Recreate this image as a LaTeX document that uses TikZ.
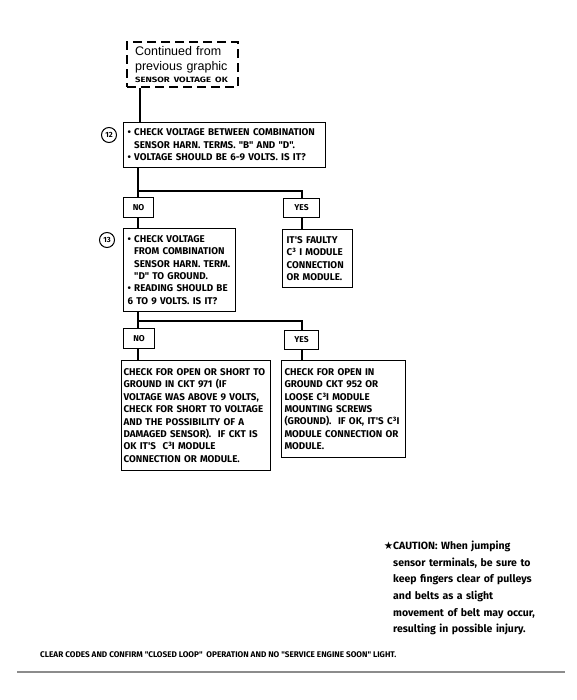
\documentclass[tikz,border=0pt]{standalone}
\usepackage{fontspec}
\setmainfont{Liberation Sans}
\newfontfamily\boxfnt{Fira Sans}
\newfontfamily\wideboxfnt{Fira Sans}[FakeStretch=1.25]
\newfontfamily\symfnt{DejaVu Sans}
\begin{document}
\begin{tikzpicture}[x=1pt,y=-1pt]
\useasboundingbox[fill=white] (0,0) rectangle (577,700);
\tikzset{
  box/.style={draw, line width=1.1pt, inner xsep=4pt, inner ysep=0pt, align=left,
    anchor=north west, font=\boxfnt\bfseries\fontsize{9.8}{12.4}\selectfont},
  conn/.style={line width=2.6pt},
  numc/.style={circle, draw, line width=1pt, minimum size=15pt, inner sep=0pt,
    font=\boxfnt\bfseries\fontsize{7.5}{8}\selectfont},
  yn/.style={draw, line width=1.1pt, inner sep=0pt, anchor=north west,
    font=\boxfnt\bfseries\fontsize{8.5}{10}\selectfont},
  dashbox/.style={draw, line width=2.2pt, dash pattern=on 9pt off 5pt, anchor=north west,
    inner xsep=8pt, inner ysep=0pt, align=left, font=\fontsize{12.5}{14.5}\selectfont},
  caut/.style={anchor=north west, inner sep=0pt, align=left, text width=185pt,
    font=\boxfnt\bfseries\fontsize{10.5}{16.6}\selectfont},
  foot/.style={anchor=west, inner sep=0pt, font=\boxfnt\bfseries\fontsize{8.2}{9}\selectfont}
}
% trunk coordinates
\coordinate (tD) at (140,0);
\coordinate (tL) at (138,0);
\coordinate (tR) at (302,0);
\coordinate (br1) at (138,191);
\coordinate (br2) at (138,321);

% dashed start box
\node[dashbox, minimum width=111pt, minimum height=45pt, text width=95pt] (start) at (126,41)
  {Continued from\\previous graphic\\[-2pt]\mbox{\wideboxfnt\bfseries\fontsize{7.6}{9}\selectfont SENSOR VOLTAGE OK}};

% step 12
\node[box, minimum height=45pt, text width=194pt] (b12) at (123,122)
  {\textbullet\ CHECK VOLTAGE BETWEEN COMBINATION\\
   \hphantom{\textbullet\ }SENSOR HARN. TERMS. "B" AND "D".\\
   \textbullet\ VOLTAGE SHOULD BE 6-9 VOLTS. IS IT?};
\node[numc] (n12) at (109,135) {12};

\node[yn, minimum width=30pt, minimum height=20pt] (no1) at (123,197) {NO};
\node[yn, minimum width=36pt, minimum height=19pt] (yes1) at (283,198) {YES};

% step 13
\node[box, minimum height=83pt, text width=104pt] (b13) at (123,228)
  {\textbullet\ CHECK VOLTAGE\\
   \hphantom{\textbullet\ }FROM COMBINATION\\
   \hphantom{\textbullet\ }SENSOR HARN. TERM.\\
   \hphantom{\textbullet\ }"D" TO GROUND.\\
   \textbullet\ READING SHOULD BE\\
   6 TO 9 VOLTS. IS IT?};
\node[numc] (n13) at (107,240) {13};

\node[box, minimum height=58pt, text width=62pt] (res1) at (282,229)
  {IT'S FAULTY\\C³ I MODULE\\CONNECTION\\OR MODULE.};

\node[yn, minimum width=31pt, minimum height=20pt] (no2) at (123,328) {NO};
\node[yn, minimum width=34pt, minimum height=19pt] (yes2) at (284,330) {YES};

\node[box, inner xsep=2pt, minimum height=110pt, text width=145pt] (fin1) at (121,360)
  {CHECK FOR OPEN OR SHORT TO\\
   GROUND IN CKT 971 (IF\\
   VOLTAGE WAS ABOVE 9 VOLTS,\\
   CHECK FOR SHORT TO VOLTAGE\\
   AND THE POSSIBILITY OF A\\
   DAMAGED SENSOR).\ \ IF CKT IS\\
   OK IT'S\ \ C³I MODULE\\
   CONNECTION OR MODULE.};
\node[box, minimum height=97pt, text width=118pt, inner xsep=3pt] (fin2) at (281,360)
  {CHECK FOR OPEN IN\\
   GROUND CKT 952 OR\\
   LOOSE C³I MODULE\\
   MOUNTING SCREWS\\
   (GROUND).\ \ IF OK, IT'S C³I\\
   MODULE CONNECTION OR\\
   MODULE.};

% connectors
\draw[conn] (start.south -| tD) -- (b12.north -| tD);
\draw[conn] (b12.south -| tL) -- (no1.north -| tL);
\draw[conn] (br1) -| (yes1.north -| tR);
\draw[conn] (no1.south -| tL) -- (b13.north -| tL);
\draw[conn] (yes1.south -| tR) -- (res1.north -| tR);
\draw[conn] (b13.south -| tL) -- (no2.north -| tL);
\draw[conn] (br2) -| (yes2.north -| tR);
\draw[conn] (no2.south -| tL) -- (fin1.north -| tL);
\draw[conn] (yes2.south -| tR) -- (fin2.north -| tR);

% caution
\node[caut] (caution) at (393,541)
  {\llap{{\symfnt ★}}CAUTION:\ When jumping\\
   sensor terminals, be sure to\\
   keep fingers clear of pulleys\\
   and belts as a slight\\
   movement of belt may occur,\\
   resulting in possible injury.};

% footer
\node[foot] (footer) at (40,655)
  {CLEAR CODES AND CONFIRM "CLOSED LOOP"\ \ OPERATION AND NO "SERVICE ENGINE SOON" LIGHT.};
\coordinate (fl) at (17,672);
\coordinate (fr) at (565,672);
\draw[line width=1.3pt, black!45] (fl) -- (fr);
\end{tikzpicture}
\end{document}
